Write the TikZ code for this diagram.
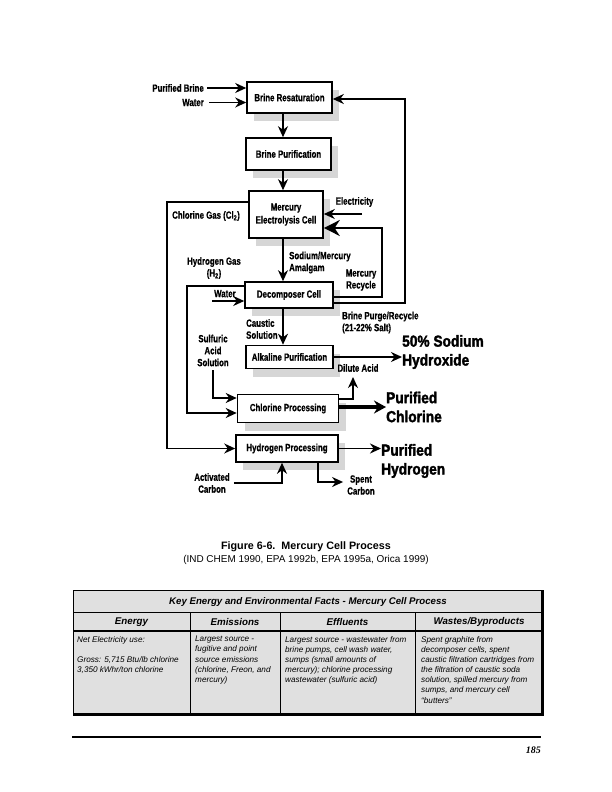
\documentclass[tikz,border=0pt]{standalone}
\usepackage{fontspec}
\setmainfont{Liberation Sans}
\newfontfamily\narrowfont[FakeStretch=0.75,BoldFeatures={FakeBold=0.6}]{Liberation Sans}
\newfontfamily\heavyfont[FakeStretch=0.86,BoldFeatures={FakeBold=2}]{Liberation Sans}
\newfontfamily\pagefont{Liberation Serif}
\usetikzlibrary{arrows.meta,shadows}
\tikzset{>={Stealth[length=11bp,width=10bp]}}
\tikzset{
  box/.style={draw,line width=1.6bp,fill=white,inner sep=1bp,align=center,
    font=\narrowfont\bfseries\fontsize{10.5}{13}\selectfont,
    drop shadow={shadow xshift=7bp,shadow yshift=-8bp,fill=black!16,opacity=1}},
  lbl/.style={inner sep=0pt,align=center,font=\narrowfont\bfseries\fontsize{10.5}{12}\selectfont},
  big/.style={inner sep=0pt,align=left,font=\heavyfont\bfseries\fontsize{16}{19}\selectfont},
  flow/.style={line width=1.6bp,->},
  cell/.style={anchor=north west,inner sep=0pt,align=left,font=\itshape\fontsize{8.2}{10.2}\selectfont},
  head/.style={inner sep=0pt,font=\bfseries\itshape\fontsize{9.8}{11}\selectfont}
}

\begin{document}
\begin{tikzpicture}[x=1bp,y=-1bp]
    \useasboundingbox (0,0) rectangle (612,792);
    % process boxes
    \node[box,minimum width=85bp,minimum height=31bp] (res) at (289.5,97.5) {Brine Resaturation};
    \node[box,minimum width=85bp,minimum height=32bp] (pur) at (288.5,154) {Brine Purification};
    \node[box,minimum width=74bp,minimum height=47bp] (merc) at (286,214.5) {Mercury\\Electrolysis Cell};
    \node[box,minimum width=88bp,minimum height=26bp] (dec) at (289,295) {Decomposer Cell};
    \node[box,minimum width=87bp,minimum height=23bp] (alk) at (289.5,357) {Alkaline Purification};
    \node[box,minimum width=101bp,minimum height=28bp] (chl) at (288,408.5) {Chlorine Processing};
    \node[box,minimum width=102bp,minimum height=27bp] (hyd) at (287,448.5) {Hydrogen Processing};
    \coordinate (spine) at (283,0);
    \draw[flow] (res.south -| spine) -- (pur.north -| spine);
    \draw[flow] (pur.south -| spine) -- (merc.north -| spine);
    \draw[flow] (merc.south -| spine) -- (dec.north -| spine);
    \draw[flow] (dec.south -| spine) -- (alk.north -| spine);
    % feeds to resaturation
    \node[lbl,anchor=east] (inbrine) at (204,88) {Purified Brine};
    \node[lbl,anchor=east] (inwater) at (204,102.5) {Water};
    \draw[flow] ([xshift=3bp]inbrine.east) -- (inbrine.east -| res.west);
    \draw[flow] ([xshift=5bp]inwater.east) -- (inwater.east -| res.west);
    % gas lines
    \coordinate (clgas) at (167,202);
    \draw[flow] (merc.west |- clgas) -- (clgas) |- (hyd.west);
    \node[lbl,anchor=west] (lclgas) at (172,216) {Chlorine Gas (Cl\textsubscript{2})};
    \coordinate (hgas) at (187,286);
    \coordinate (hin) at (0,413);
    \draw[flow] (dec.west |- hgas) -- (hgas) |- (chl.west |- hin);
    \node[lbl] (lhgas) at (214,268) {Hydrogen Gas\\(H\textsubscript{2})};
    % decomposer inputs and outputs
    \coordinate (dwater) at (212,301);
    \draw[flow] (dwater) -- (dwater -| dec.west);
    \node[lbl,anchor=south west] (ldwater) at (214,297.5) {Water};
    \node[lbl,align=left,anchor=west] (lamal) at (289,262.5) {Sodium/Mercury\\Amalgam};
    \coordinate (elec) at (362,214);
    \draw[flow] (elec) -- (elec -| merc.east);
    \node[lbl] (lelec) at (354.5,202) {Electricity};
    \coordinate (recA) at (382,297);
    \coordinate (recB) at (382,228);
    \draw[line width=1.6bp,-{Stealth[length=16bp,width=16bp]}] (dec.east |- recA) -- (recA) -- (recB) -- (recB -| merc.east);
    \node[lbl] (lrec) at (361,280) {Mercury\\Recycle};
    \coordinate (purgeA) at (405,303);
    \coordinate (purgeB) at (405,99);
    \draw[flow] (dec.east |- purgeA) -- (purgeA) -- (purgeB) -- (purgeB -| res.east);
    \node[lbl,align=left,anchor=west] (lpurge) at (342,322.5) {Brine Purge/Recycle\\(21-22\% Salt)};
    \node[lbl,align=left,anchor=west] (lcaus) at (246,329) {Caustic\\Solution};
    % products
    \node[big,anchor=west] (naoh) at (402,352) {50\% Sodium\\Hydroxide};
    \draw[flow] (alk.east) -- (alk.east -| naoh.west);
    \node[lbl] (lsulf) at (213,350.5) {Sulfuric\\Acid\\Solution};
    \coordinate (sin) at (0,398);
    \draw[flow] ([yshift=-4bp]lsulf.south) |- (chl.west |- sin);
    \node[lbl] (ldil) at (358,368) {Dilute Acid};
    \coordinate (dilA) at (353,399);
    \coordinate (dilB) at (353,377);
    \draw[flow] (chl.east |- dilA) -| (dilB);
    \node[big,anchor=west] (pcl) at (386,407) {Purified\\Chlorine};
    \draw[line width=3.5bp,-{Stealth[length=12bp,width=13bp]}] (chl.east |- pcl.west) -- (pcl.west);
    \node[big,anchor=west] (ph2) at (381,461) {Purified\\Hydrogen};
    \draw[flow] (hyd.east) -- (hyd.east -| ph2.west);
    \node[lbl] (lact) at (212,483) {Activated\\Carbon};
    \coordinate (actA) at (282,483);
    \draw[flow] ([xshift=4bp]lact.east) -- (actA) -- (actA |- hyd.south);
    \coordinate (spA) at (318,482);
    \node[lbl] (lspent) at (361,485) {Spent\\Carbon};
    \draw[flow] (hyd.south -| spA) -- (spA) -- ([xshift=-4bp]lspent.west |- spA);
    % caption
    \node[font=\bfseries\fontsize{10.8}{13}\selectfont] (figcap) at (306,547) {Figure 6-6.\ \ Mercury Cell Process};
    \node[font=\fontsize{10}{12}\selectfont] (figsrc) at (306,559.5) {(IND CHEM 1990, EPA 1992b, EPA 1995a, Orica 1999)};
    % facts table
    \fill[black!12] (73,590) rectangle (541,713);
    \draw[line width=0.8bp] (541,590) -- (73,590) -- (73,713);
    \draw[line width=0.8bp] (73,612) -- (541,612);
    \draw[line width=1.3bp] (73,631) -- (541,631);
    \foreach \cx in {190,280,415}
      \draw[line width=0.8bp] (\cx,612) -- (\cx,713);
    \draw[line width=3bp] (542,590) -- (542,715);
    \draw[line width=3bp] (73,714) -- (543.5,714);
    \node[head,font=\bfseries\itshape\fontsize{9.7}{11}\selectfont] (ttl) at (308,602) {Key Energy and Environmental Facts - Mercury Cell Process};
    \node[head] (henergy) at (131.5,622) {Energy};
    \node[head] (hemis) at (235,622) {Emissions};
    \node[head] (heffl) at (347.5,622) {Effluents};
    \node[head] (hwaste) at (479,622) {Wastes/Byproducts};
    \node[cell] (cenergy) at (77,636) {Net Electricity use:\\[10.2bp]Gross: 5,715 Btu/lb chlorine\\3,350 kWhr/ton chlorine};
    \node[cell] (cemis) at (195,636) {Largest source -\\fugitive and point\\source emissions\\(chlorine, Freon, and\\mercury)};
    \node[cell] (ceffl) at (285,636) {Largest source - wastewater from\\brine pumps, cell wash water,\\sumps (small amounts of\\mercury); chlorine processing\\wastewater (sulfuric acid)};
    \node[cell] (cwaste) at (421,636) {Spent graphite from\\decomposer cells, spent\\caustic filtration cartridges from\\the filtration of caustic soda\\solution, spilled mercury from\\sumps, and mercury cell\\``butters''};
    % page foot
    \draw[line width=2bp] (72,737) -- (541,737);
    \node[anchor=east,inner sep=0pt,font=\pagefont\bfseries\itshape\fontsize{10}{12}\selectfont] (pageno) at (541,750) {185};
\end{tikzpicture}
\end{document}
